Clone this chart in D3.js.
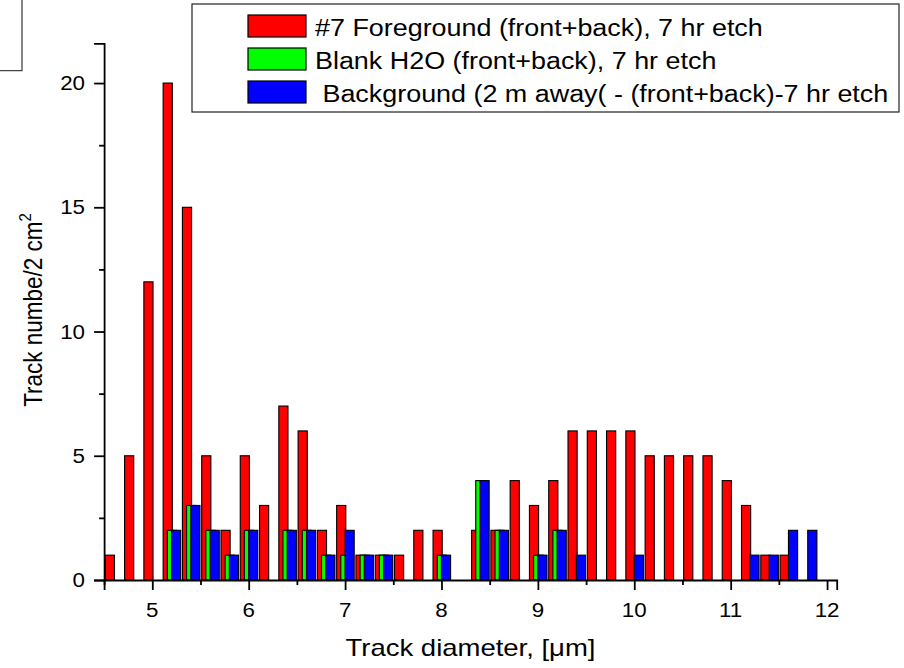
<!DOCTYPE html>
<html>
<head>
<meta charset="utf-8">
<script src="https://cdn.jsdelivr.net/npm/d3@7"></script>
<style>
  html, body { margin: 0; padding: 0; background: #fff; }
  svg { display: block; font-family: "Liberation Sans", Arial, sans-serif; }
</style>
</head>
<body>
<svg id="chart" width="904" height="668"></svg>
<script>
// ---- data ----
const categories = [4.6, 4.8, 5.0, 5.2, 5.4, 5.6, 5.8, 6.0, 6.2, 6.4, 6.6, 6.8, 7.0, 7.2, 7.4, 7.6, 7.8, 8.0, 8.2,
                    8.4, 8.6, 8.8, 9.0, 9.2, 9.4, 9.6, 9.8, 10.0, 10.2, 10.4, 10.6, 10.8, 11.0, 11.2, 11.4, 11.6, 11.8];
const foreground = [1, 5, 12, 20, 15, 5, 2, 5, 3, 7, 6, 2, 3, 1, 1, 1, 2, 2, 0,
                    2, 2, 4, 3, 4, 6, 6, 6, 6, 5, 5, 5, 5, 4, 3, 1, 1, 0];
const blankH2O   = [0, 0, 0, 2, 3, 2, 1, 2, 0, 2, 2, 1, 1, 1, 1, 0, 0, 1, 0,
                    4, 2, 0, 1, 2, 0, 0, 0, 0, 0, 0, 0, 0, 0, 0, 0, 0, 0];
const background = [0, 0, 0, 2, 3, 2, 1, 2, 0, 2, 2, 1, 2, 1, 1, 0, 0, 1, 0,
                    4, 2, 0, 1, 2, 1, 0, 0, 1, 0, 0, 0, 0, 0, 1, 1, 2, 2];
const seriesNames = ["#7 Foreground (front+back), 7 hr etch",
                     "Blank H2O (front+back), 7 hr etch",
                     " Background (2 m away( - (front+back)-7 hr etch"];
const seriesColors = ["#ff0000", "#00ff00", "#0000ff"];
const xTicks = [5, 6, 7, 8, 9, 10, 11, 12];
const xMinorTicks = [4.5, 5.5, 6.5, 7.5, 8.5, 9.5, 10.5, 11.5];
const yTicks = [0, 5, 10, 15, 20];
const yMinorTicks = [2.5, 7.5, 12.5, 17.5];
const xTitle = "Track diameter, [\u03bcm]";
const yTitle = "Track numbe/2 cm";

// ---- layout ----
const SX = 1.145; // horizontal stretch of the original's text
const svg = d3.select("#chart");
svg.append("rect").attr("width", 904).attr("height", 668).attr("fill", "#fff");

const x = d3.scaleLinear().domain([4.5, 12.1]).range([104.1, 836.7]);
const y = d3.scaleLinear().domain([0, 21.6]).range([580, 43.3]);

const barW = 0.095;
const offsets = [-0.04, 0.003, 0.047];
const seriesData = [foreground, blankH2O, background];

seriesData.forEach((vals, si) => {
  const g = svg.append("g");
  g.selectAll("rect")
    .data(categories.map((c, i) => ({c, v: vals[i]})).filter(d => d.v > 0))
    .join("rect")
    .attr("x", d => x(d.c + offsets[si] - barW / 2))
    .attr("width", d => x(d.c + offsets[si] + barW / 2) - x(d.c + offsets[si] - barW / 2))
    .attr("y", d => y(d.v))
    .attr("height", d => y(0) - y(d.v))
    .attr("fill", seriesColors[si])
    .attr("stroke", "#000")
    .attr("stroke-width", 1.1);
});

// ---- axes ----
const xAxis = d3.axisBottom(x).tickValues(xTicks).tickSize(10).tickFormat("");
const xMinor = d3.axisBottom(x).tickValues(xMinorTicks).tickSize(5).tickFormat("");
const yAxis = d3.axisLeft(y).tickValues(yTicks).tickSize(10).tickFormat("");
const yMinor = d3.axisLeft(y).tickValues(yMinorTicks).tickSize(5).tickFormat("");

function styleAxis(g) {
  g.selectAll("path").attr("stroke", "#000").attr("stroke-width", 1.8);
  g.selectAll("line").attr("stroke", "#000").attr("stroke-width", 1.8);
}
svg.append("g").attr("transform", "translate(0,580)").call(xAxis).call(styleAxis);
svg.append("g").attr("transform", "translate(0,580)").call(xMinor).call(g => g.select("path").remove()).call(styleAxis);
svg.append("g").attr("transform", "translate(104.1,0)").call(yAxis).call(styleAxis);
svg.append("g").attr("transform", "translate(104.1,0)").call(yMinor).call(g => g.select("path").remove()).call(styleAxis);

// tick labels
svg.append("g").selectAll("text").data(xTicks).join("text")
  .attr("transform", d => `translate(${x(d)},616.5) scale(${SX},1)`)
  .attr("text-anchor", "middle")
  .attr("font-size", 19.5)
  .text(d => d);
svg.append("g").selectAll("text").data(yTicks).join("text")
  .attr("transform", d => `translate(85,${y(d) + 7}) scale(${SX},1)`)
  .attr("text-anchor", "end")
  .attr("font-size", 19.5)
  .text(d => d);

// axis titles
svg.append("text")
  .attr("transform", `translate(470.5,656) scale(${SX},1)`)
  .attr("text-anchor", "middle")
  .attr("font-size", 24)
  .text(xTitle);
const yt = svg.append("text")
  .attr("transform", `translate(42,310) rotate(-90) scale(1,${SX})`)
  .attr("text-anchor", "middle")
  .attr("font-size", 22.5);
yt.append("tspan").text(yTitle);
yt.append("tspan").attr("font-size", 15).attr("dy", -10).text("2");

// ---- legend ----
const legend = svg.append("g");
legend.append("rect").attr("x", 192).attr("y", 4).attr("width", 707).attr("height", 108)
  .attr("fill", "#fff").attr("stroke", "#222").attr("stroke-width", 1.2);
const rowY = [15, 48, 81];
seriesNames.forEach((name, i) => {
  legend.append("rect").attr("x", 248).attr("y", rowY[i]).attr("width", 58).attr("height", 22)
    .attr("fill", seriesColors[i]).attr("stroke", "#000").attr("stroke-width", 1.2);
  legend.append("text")
    .attr("transform", `translate(315,${rowY[i] + 20.5}) scale(${SX},1)`)
    .attr("font-size", 23.5)
    .attr("xml:space", "preserve")
    .style("white-space", "pre")
    .text(name);
});

// top-left partial frame
svg.append("path").attr("d", "M22,0 V70.7 H0").attr("fill", "none")
  .attr("stroke", "#444").attr("stroke-width", 1.3);
</script>
</body>
</html>
